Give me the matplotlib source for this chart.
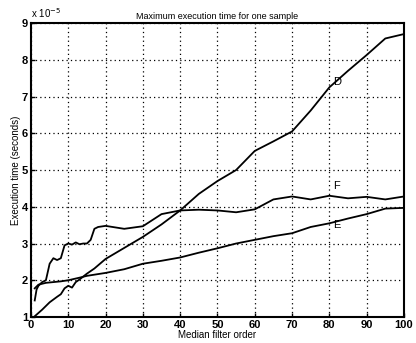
import matplotlib
matplotlib.use("Agg")
import matplotlib.pyplot as plt

D_x = [1, 3, 5, 7, 8, 9, 10, 11, 12, 13, 15, 17, 20, 25, 30, 35, 40, 45, 50, 55, 60, 65, 70, 75, 80, 85, 90, 95, 100]
D_y = [1.02, 1.2, 1.4, 1.55, 1.62, 1.78, 1.85, 1.8, 1.95, 2.02, 2.18, 2.32, 2.58, 2.88, 3.18, 3.52, 3.9, 4.35, 4.7, 5.0, 5.52, 5.78, 6.05, 6.62, 7.25, 7.7, 8.13, 8.58, 8.7]

F_x = [1, 1.5, 2, 3, 4, 5, 6, 7, 8, 9, 10, 11, 12, 13, 14, 15, 16, 17, 18, 20, 25, 30, 35, 40, 45, 50, 55, 60, 65, 70, 75, 80, 85, 90, 95, 100]
F_y = [1.45, 1.75, 1.85, 1.95, 2.0, 2.45, 2.6, 2.55, 2.6, 2.95, 3.0, 2.97, 3.03, 2.98, 3.0, 3.0, 3.1, 3.4, 3.45, 3.48, 3.4, 3.47, 3.8, 3.9, 3.92, 3.9, 3.85, 3.93, 4.2, 4.28, 4.2, 4.3, 4.23, 4.27, 4.2, 4.28]

E_x = [1, 2, 4, 8, 10, 13, 15, 20, 25, 30, 35, 40, 45, 50, 55, 60, 65, 70, 75, 80, 85, 90, 95, 100]
E_y = [1.78, 1.88, 1.93, 1.97, 2.0, 2.07, 2.12, 2.2, 2.3, 2.45, 2.53, 2.62, 2.75, 2.87, 3.0, 3.1, 3.2, 3.28, 3.45, 3.55, 3.68, 3.8, 3.95, 3.97]

labels = [("D", 81, 7.4), ("F", 81, 4.56), ("E", 81, 3.5)]
x_ticks = [0, 10, 20, 30, 40, 50, 60, 70, 80, 90, 100]
y_ticks = [1, 2, 3, 4, 5, 6, 7, 8, 9]

plt.rcParams['font.family'] = ['Liberation Sans', 'DejaVu Sans']
fig = plt.figure(figsize=(4.16, 3.43), dpi=100)
ax = fig.add_axes([0.0745, 0.0758, 0.8965, 0.857])

for xs, ys in [(D_x, D_y), (F_x, F_y), (E_x, E_y)]:
    ax.plot(xs, ys, color='black', lw=1.3)
for t, x, y in labels:
    ax.text(x, y, t, fontsize=8, ha='left', va='center')

ax.set_xlim(0, 100)
ax.set_ylim(1, 9)
ax.set_xticks(x_ticks)
ax.set_yticks(y_ticks)
ax.tick_params(direction='in', labelsize=8, length=3, width=1, pad=2)
for lab in ax.get_xticklabels() + ax.get_yticklabels():
    lab.set_fontweight('bold')
ax.grid(True, linestyle=(0, (1, 2.5)), color='black', lw=0.9)
for s in ax.spines.values():
    s.set_linewidth(1.5)
ax.set_title("Maximum execution time for one sample", fontsize=6.5, pad=3)
ax.set_xlabel("Median filter order", fontsize=7, labelpad=0)
ax.set_ylabel("Execution time (seconds)", fontsize=7, labelpad=1)
ax.text(0.0, 1.01, r"x 10$^{-5}$", transform=ax.transAxes, fontsize=7, ha='left', va='bottom')

fig.savefig("out.png", dpi=100)
